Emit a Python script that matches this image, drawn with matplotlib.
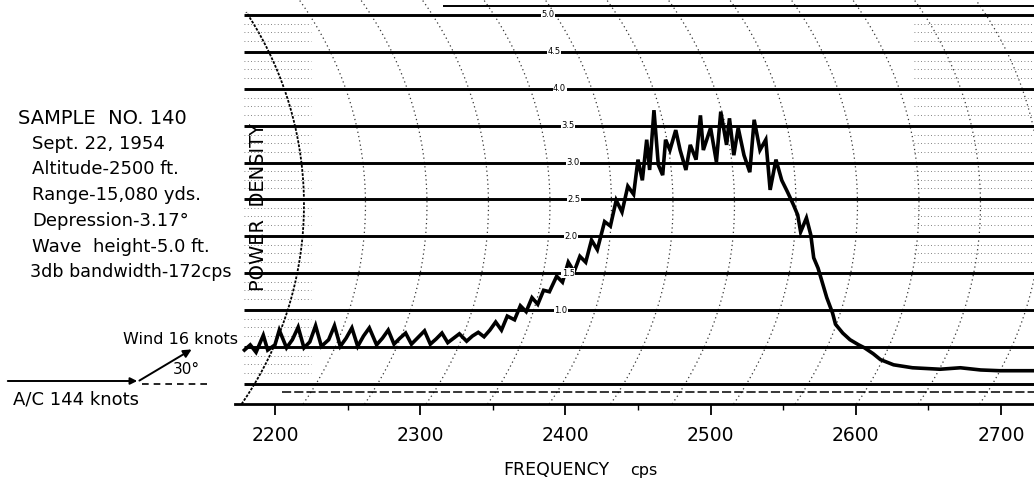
import numpy as np
import matplotlib.pyplot as plt

# power density trace
freq = [2179, 2183, 2187, 2192, 2195, 2200, 2203, 2208, 2212, 2216,
        2220, 2224, 2228, 2232, 2237, 2241, 2245, 2249, 2253, 2257,
        2261, 2265, 2270, 2274, 2278, 2282, 2286, 2290, 2294, 2299,
        2303, 2307, 2311, 2315, 2319, 2323, 2327, 2332, 2336, 2340,
        2344, 2348, 2352, 2356, 2360, 2365, 2369, 2373, 2377, 2381,
        2385, 2389, 2394, 2398, 2402, 2406, 2410, 2414, 2418, 2422,
        2427, 2431, 2435, 2439, 2443, 2447, 2450, 2453, 2456, 2458,
        2461, 2464, 2467, 2469, 2472, 2476, 2479, 2483, 2486, 2490,
        2493, 2495, 2500, 2504, 2507, 2511, 2513, 2516, 2519, 2523,
        2527, 2530, 2534, 2538, 2541, 2545, 2549, 2553, 2557, 2560,
        2562, 2566, 2569, 2571, 2574, 2577, 2580, 2584, 2586, 2591,
        2596, 2602, 2606, 2612, 2617, 2626, 2639, 2658, 2672, 2686,
        2699, 2723]
power = [0.46, 0.53, 0.43, 0.66, 0.46, 0.53, 0.73, 0.49, 0.60, 0.77,
         0.49, 0.57, 0.79, 0.51, 0.60, 0.79, 0.51, 0.62, 0.76, 0.51,
         0.65, 0.76, 0.53, 0.62, 0.73, 0.54, 0.62, 0.69, 0.54, 0.64,
         0.72, 0.54, 0.61, 0.69, 0.56, 0.62, 0.68, 0.58, 0.65, 0.70,
         0.64, 0.73, 0.84, 0.73, 0.92, 0.87, 1.06, 0.98, 1.17, 1.08,
         1.27, 1.25, 1.46, 1.38, 1.65, 1.52, 1.73, 1.65, 1.95, 1.82,
         2.20, 2.14, 2.49, 2.33, 2.68, 2.57, 3.04, 2.76, 3.31, 2.90,
         3.71, 2.97, 2.83, 3.31, 3.17, 3.44, 3.17, 2.90, 3.24, 3.04,
         3.64, 3.17, 3.47, 3.01, 3.69, 3.24, 3.60, 3.10, 3.47, 3.10,
         2.87, 3.58, 3.17, 3.31, 2.63, 3.04, 2.76, 2.60, 2.43, 2.29,
         2.06, 2.25, 2.02, 1.71, 1.57, 1.37, 1.17, 0.96, 0.81, 0.69,
         0.60, 0.53, 0.49, 0.41, 0.33, 0.26, 0.22, 0.20, 0.22, 0.19,
         0.18, 0.18]

levels = [0.0, 0.5, 1.0, 1.5, 2.0, 2.5, 3.0, 3.5, 4.0, 4.5, 5.0]
level_labels = ["", "", "1.0", "1.5", "2.0", "2.5", "3.0", "3.5", "4.0", "4.5", "5.0"]
label_freqs = [2393, 2393, 2397, 2402, 2404, 2406, 2405, 2402, 2396, 2392, 2388]
freq_ticks = [2200, 2300, 2400, 2500, 2600, 2700]

fig = plt.figure(figsize=(10.34, 4.8), dpi=100)
ax = fig.add_axes([235/1034, 76/480, 799/1034, 404/480])
x0, x1 = 2172.5, 2722.7
y0, y1 = -0.271, 5.203
ax.set_xlim(x0, x1)
ax.set_ylim(y0, y1)

# recorder paper: pen arcs (same radius, shifted along frequency)
pc, rp, rf = 2.43, 4.74, 241.0
pp = np.linspace(y0, y1, 200)
for k in range(13):
    f0 = 2220 + 42.35 * k
    ff = f0 - rf * (1 - np.sqrt(1 - ((pp - pc) / rp) ** 2))
    if k == 0:
        m = pp <= 5.05
        ax.plot(ff[m], pp[m], color="black", lw=1.3, ls=(0, (1.5, 0.8)))
    else:
        ax.plot(ff, pp, color="black", lw=0.9, ls=(0, (1, 2.5)), alpha=0.8)

# faint sub-division rows near the edges of the paper
for lv in levels[:-1]:
    for s in (0.15, 0.27, 0.38):
        ax.hlines(lv + s, 2179, 2225, color="0.35", lw=0.6, ls=(0, (1, 3)))
        if lv >= 1.5:
            ax.hlines(lv + s, 2640, 2722, color="0.35", lw=0.6, ls=(0, (1, 3)))

ax.hlines(levels, 2179, x1, color="black", lw=2.1)
ax.hlines(-0.108, 2205, x1, color="black", lw=1.1, ls=(0, (6, 2)))
ax.hlines(5.12, 2316, x1, color="black", lw=1.4)

for lv, lab, lf in zip(levels, level_labels, label_freqs):
    if lab:
        ax.text(lf, lv, lab, fontsize=6, ha="center", va="center",
                bbox=dict(fc="white", ec="none", pad=0.3))

ax.plot(freq, power, color="black", lw=2.6, solid_joinstyle="miter")

for s in ("top", "right", "left"):
    ax.spines[s].set_visible(False)
ax.spines["bottom"].set_linewidth(2)
ax.set_yticks([])
ax.set_xticks(freq_ticks)
ax.set_xticks([2250, 2350, 2450, 2550, 2650], minor=True)
ax.tick_params(axis="x", which="major", direction="out", length=8, width=1.3,
               labelsize=13.5, pad=8)
ax.tick_params(axis="x", which="minor", direction="out", length=4, width=1)

ax.text(0.029, 0.488, "POWER  DENSITY", transform=ax.transAxes, rotation=90,
        fontsize=14, ha="center", va="center")

# overlay in figure pixels for the notes and the wind sketch
ov = fig.add_axes([0, 0, 1, 1], facecolor="none")
ov.set_xlim(0, 1034)
ov.set_ylim(480, 0)
ov.axis("off")

notes = ["SAMPLE  NO. 140", "Sept. 22, 1954", "Altitude-2500 ft.",
         "Range-15,080 yds.", "Depression-3.17°", "Wave  height-5.0 ft.",
         "3db bandwidth-172cps"]
note_x = [18, 32, 32, 32, 32, 32, 30]
note_size = [14, 13, 13, 13, 13, 13, 12.6]
for i, (t, nx, fs) in enumerate(zip(notes, note_x, note_size)):
    ov.text(nx, 118 + 25.7 * i, t, fontsize=fs, ha="left", va="center")

ov.text(123, 340, "Wind 16 knots", fontsize=11.5, ha="left", va="center")
ov.text(13, 400, "A/C 144 knots", fontsize=13, ha="left", va="center")
ov.annotate("", xy=(140, 381), xytext=(5, 381),
            arrowprops=dict(arrowstyle="-|>", color="black", lw=1.4, mutation_scale=10))
ov.annotate("", xy=(194, 348), xytext=(137, 382),
            arrowprops=dict(arrowstyle="-|>", color="black", lw=1.4, mutation_scale=12))
ov.plot([142, 212], [384, 384], color="black", lw=1.2, ls=(0, (4, 3)))
ov.text(186, 369, "30°", fontsize=11, ha="center", va="center")

ov.text(503, 470, "FREQUENCY", fontsize=12.5, ha="left", va="center")
ov.text(630, 470, "cps", fontsize=11.5, ha="left", va="center")

fig.savefig("out.png", dpi=100, facecolor="white")
